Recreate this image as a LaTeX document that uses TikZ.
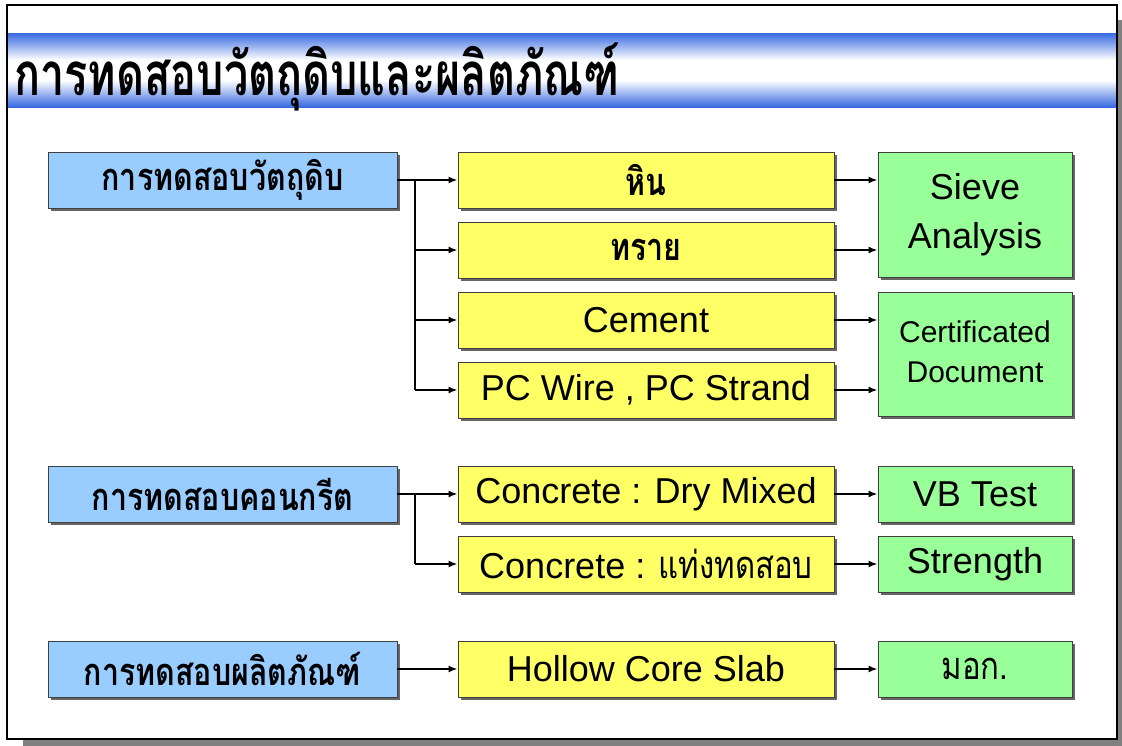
\documentclass[tikz,border=0pt]{standalone}
\usepackage{fontspec}
\usepackage{graphicx}
\setmainfont{Liberation Sans}
\newfontfamily\thai[Script=Thai]{Loma}
\usetikzlibrary{arrows.meta,shadows}
\definecolor{bluefill}{RGB}{153,204,255}
\definecolor{yfill}{RGB}{255,255,102}
\definecolor{gfill}{RGB}{153,255,153}
\definecolor{barblue}{RGB}{55,105,225}
\newcommand\fen{\fontsize{36}{49}\selectfont}
\newcommand\fsm{\fontsize{30}{40}\selectfont}
\newcommand\tht[1]{\scalebox{0.82}[1]{\thai\fontsize{38}{44}\selectfont #1}}
\newcommand\thtb[1]{\scalebox{0.8}[1]{\thai\bfseries\fontsize{38}{44}\selectfont #1}}
\begin{document}
\begin{tikzpicture}[x=1pt,y=-1pt,
  box/.style={draw=black!75, line width=0.8pt, inner sep=0pt, align=center,
    drop shadow={shadow xshift=3pt, shadow yshift=-3pt, fill=black!60, opacity=1}},
  bluebox/.style={box, fill=bluefill, minimum width=349pt, minimum height=56pt},
  ybox/.style={box, fill=yfill, minimum width=376pt, minimum height=56pt},
  gbox/.style={box, fill=gfill, minimum width=194pt, minimum height=56pt},
  arr/.style={line width=2pt, -{Latex[length=9pt,width=7pt]}},
  trunk/.style={line width=2pt}]
\useasboundingbox (0,0) rectangle (1122,746);
\fill[white] (0,0) rectangle (1122,746);
% frame with shadow
\fill[black!50] (23,20) rectangle (1122,746);
\fill[white] (7,5) rectangle (1117,739);
% title bar (vertical gradient drawn as stripes)
\foreach \i in {33,...,107}{
  \pgfmathtruncatemacro\p{\i<60 ? 100*(60-\i)/27 : (\i>80 ? 100*(\i-80)/27 : 0)}
  \fill[barblue!\p!white] (8,\i) rectangle (1116,\i+1.3);
}
\draw[line width=2pt] (7,5) rectangle (1117,739);
\node[anchor=base west, inner sep=0pt] (title) at (14,96)
  {\scalebox{0.72}[1]{\thai\bfseries\fontsize{60}{66}\selectfont การทดสอบวัตถุดิบและผลิตภัณฑ์}};
% row group 1
\node[bluebox] (b1) at (222.5,180) {\thtb{การทดสอบวัตถุดิบ}};
\node[ybox] (y1) at (646,180) {\thtb{หิน}};
\node[ybox] (y2) at (646,250) {\thtb{ทราย}};
\node[ybox, font=\fen] (y3) at (646,320) {Cement};
\node[ybox, font=\fen] (y4) at (646,390) {PC Wire , PC Strand};
\node[gbox, minimum height=125pt, font=\fen] (g1) at (975,214.5) {Sieve\\Analysis};
\node[gbox, minimum height=124pt, anchor=north, font=\fsm] (g2) at (975,292)
  {\raisebox{5pt}{\begin{tabular}{@{}c@{}}Certificated\\Document\end{tabular}}};
% row group 2
\node[bluebox] (b2) at (222.5,494) {\thtb{การทดสอบคอนกรีต}};
\node[ybox, font=\fen] (c1) at (646,494) {Concrete : Dry Mixed};
\node[ybox, font=\fen] (c2) at (646,564) {Concrete : \tht{แท่งทดสอบ}};
\node[gbox, font=\fen] (vb) at (975,494) {VB Test};
\node[gbox, font=\fen] (st) at (975,564) {Strength};
% row group 3
\node[bluebox] (b3) at (222.5,669) {\thtb{การทดสอบผลิตภัณฑ์}};
\node[ybox, font=\fen] (h) at (646,669) {Hollow Core Slab};
\node[gbox] (mk) at (975,669) {\tht{มอก.}};
% connectors
\coordinate (t1) at (415,180);
\coordinate (t2) at (415,494);
\draw[arr] (b1.east) -- (y1.west);
\draw[trunk] (t1) -- (t1 |- y4.west);
\draw[arr] (t1 |- y2.west) -- (y2.west);
\draw[arr] (t1 |- y3.west) -- (y3.west);
\draw[arr] (t1 |- y4.west) -- (y4.west);
\draw[arr] (y1.east) -- (y1.east -| g1.west);
\draw[arr] (y2.east) -- (y2.east -| g1.west);
\draw[arr] (y3.east) -- (y3.east -| g2.west);
\draw[arr] (y4.east) -- (y4.east -| g2.west);
\draw[arr] (b2.east) -- (c1.west);
\draw[trunk] (t2) -- (t2 |- c2.west);
\draw[arr] (t2 |- c2.west) -- (c2.west);
\draw[arr] (c1.east) -- (vb.west);
\draw[arr] (c2.east) -- (st.west);
\draw[arr] (b3.east) -- (h.west);
\draw[arr] (h.east) -- (mk.west);
\end{tikzpicture}
\end{document}
